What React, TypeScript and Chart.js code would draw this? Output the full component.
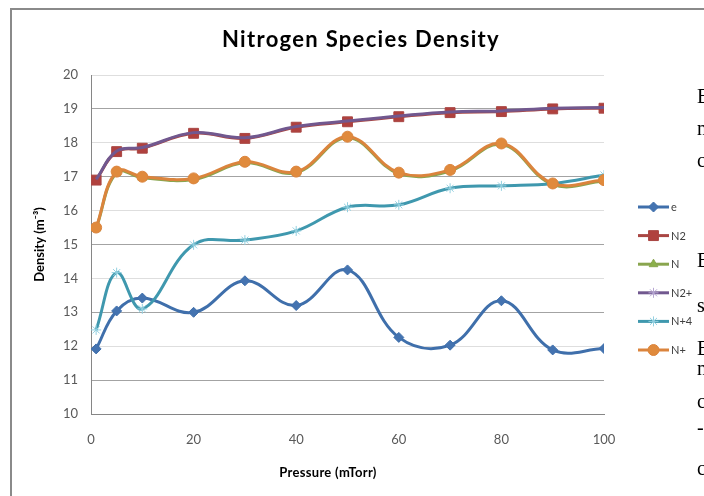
import React, { useEffect, useRef } from 'react';
import { Chart, registerables } from 'chart.js';
import { drawPoint } from 'chart.js/helpers';

Chart.register(...registerables);

const chartTitle = 'Nitrogen Species Density';
const xAxisTitle = 'Pressure (mTorr)';
const yAxisTitle = 'Density (m⁻³)';

const pressures = [1, 5, 10, 20, 30, 40, 50, 60, 70, 80, 90, 100];
const eDensity = [11.92, 13.04, 13.42, 13.0, 13.93, 13.2, 14.25, 12.26, 12.03, 13.34, 11.89, 11.93];
const n2Density = [16.9, 17.74, 17.84, 18.28, 18.13, 18.46, 18.62, 18.77, 18.89, 18.92, 19.0, 19.02];
const nDensity = [15.47, 17.12, 16.97, 16.92, 17.41, 17.12, 18.15, 17.09, 17.17, 17.95, 16.77, 16.87];
const n2PlusDensity = [16.92, 17.76, 17.86, 18.3, 18.15, 18.48, 18.64, 18.79, 18.91, 18.94, 19.02, 19.04];
const n4PlusDensity = [12.48, 14.17, 13.1, 14.99, 15.13, 15.4, 16.1, 16.17, 16.66, 16.73, 16.8, 17.05];
const nPlusDensity = [15.5, 17.15, 17.0, 16.95, 17.44, 17.15, 18.18, 17.12, 17.2, 17.98, 16.8, 16.9];

const seriesNames = ['e', 'N2', 'N', 'N2+', 'N+4', 'N+'];
const seriesValues = [eDensity, n2Density, nDensity, n2PlusDensity, n4PlusDensity, nPlusDensity];
const lineColors = ['#3f6fab', '#a94643', '#89a54e', '#71588f', '#3f98ae', '#db843d'];
const markerFills = ['#4473b0', '#b0413e', '#8bb04a', '#b6a6d2', '#93d0e0', '#e08a3c'];
const markerStyles = ['rectRot', 'rect', 'triangle', 'star', 'star', 'circle'];
const markerRadii = [5, 7, 5, 0, 5, 5.5];
const legendRadii = [5, 7, 5, 5, 5, 5.5];

const docFragments = [
  { t: 'E', b: 103 }, { t: 'n', b: 135 }, { t: 'c', b: 167 },
  { t: 'E', b: 267 }, { t: 's', b: 312 }, { t: 'E', b: 355 },
  { t: 'n', b: 375 }, { t: 'c', b: 408 }, { t: '-', b: 434 }, { t: 'c', b: 475 },
];

const FONT = 'Lato, "Open Sans", sans-serif';

const overlayPlugin = {
  id: 'overlay',
  afterDraw(chart: any) {
    const ctx = chart.ctx as any;
    ctx.save();
    ctx.fillStyle = '#000';
    ctx.textAlign = 'center';
    ctx.textBaseline = 'alphabetic';
    ctx.font = `bold 22px ${FONT}`;
    ctx.letterSpacing = '1.3px';
    ctx.fillText(chartTitle, 361, 47);
    ctx.letterSpacing = '0.3px';
    ctx.font = `bold 13px ${FONT}`;
    ctx.fillText(xAxisTitle, 328, 477);
    ctx.letterSpacing = '0px';

    chart.data.datasets.forEach((ds: any, i: number) => {
      const y = 207 + i * 28.6;
      ctx.strokeStyle = ds.borderColor;
      ctx.lineWidth = 3;
      ctx.beginPath();
      ctx.moveTo(638, y);
      ctx.lineTo(669, y);
      ctx.stroke();
      ctx.fillStyle = ds.pointBackgroundColor;
      ctx.strokeStyle = ds.pointBorderColor;
      ctx.lineWidth = ds.pointBorderWidth;
      drawPoint(ctx, { pointStyle: ds.pointStyle, rotation: 0, radius: legendRadii[i], borderWidth: ds.pointBorderWidth }, 653.5, y);
      ctx.fillStyle = '#404040';
      ctx.font = `11px ${FONT}`;
      ctx.textAlign = 'left';
      ctx.textBaseline = 'middle';
      ctx.fillText(ds.label, 671, y + 0.5);
    });
    ctx.restore();
  },
};

export default function App() {
  const canvasRef = useRef<HTMLCanvasElement | null>(null);

  useEffect(() => {
    const canvas = canvasRef.current;
    if (!canvas) return;
    const datasets = seriesNames.map((name, i) => ({
      label: name,
      data: pressures.map((p, j) => ({ x: p, y: seriesValues[i][j] })),
      borderColor: lineColors[i],
      backgroundColor: lineColors[i],
      borderWidth: 3,
      tension: 0.4,
      pointStyle: markerStyles[i],
      pointRadius: markerRadii[i],
      pointBackgroundColor: markerFills[i],
      pointBorderColor: markerStyles[i] === 'star' ? markerFills[i] : lineColors[i],
      pointBorderWidth: 1,
      order: seriesNames.length - 1 - i,
    }));
    const chart = new Chart(canvas, {
      type: 'line',
      data: { datasets },
      plugins: [overlayPlugin],
      options: {
        responsive: false,
        animation: false,
        devicePixelRatio: 1,
        layout: { padding: { top: 75, right: 100, left: 0, bottom: 0 } },
        plugins: {
          legend: { display: false },
          title: { display: false },
          tooltip: { enabled: false },
        },
        scales: {
          x: {
            type: 'linear',
            min: 0,
            max: 100,
            afterFit: (s: any) => { s.height = 82; },
            ticks: { stepSize: 20, padding: 18, color: '#595959', font: { family: FONT, size: 13 } },
            grid: { display: false, drawTicks: false },
            border: { display: true, color: '#868686', width: 1 },
          },
          y: {
            min: 10,
            max: 20,
            afterFit: (s: any) => { s.width = 91; },
            ticks: { stepSize: 1, padding: 13, color: '#595959', font: { family: FONT, size: 13 } },
            grid: {
              drawTicks: false,
              color: (c: any) => (c.tick && Math.round(c.tick.value) % 2 === 1 ? '#a3a3a3' : '#dedede'),
            },
            border: { display: true, color: '#868686', width: 1 },
            title: {
              display: true,
              text: yAxisTitle,
              color: '#000',
              font: { family: FONT, size: 13, weight: 'bold' },
              padding: { top: 32, bottom: 0 },
            },
          },
        },
      },
    } as any);
    return () => chart.destroy();
  }, []);

  return (
    <div style={{ position: 'absolute', left: 0, top: 0, width: 704, height: 496, overflow: 'hidden', background: '#fff' }}>
      <div style={{ position: 'absolute', left: 10, top: 8, width: 720, height: 520, borderTop: '2px solid #8a8a8a', borderLeft: '2px solid #8a8a8a' }} />
      <canvas ref={canvasRef} width={704} height={496} style={{ position: 'absolute', left: 0, top: 0, width: 704, height: 496 }} />
      {docFragments.map((f, i) => (
        <div key={i} style={{ position: 'absolute', left: 697, top: f.b - 17, fontFamily: '"Liberation Serif", serif', fontSize: 20, lineHeight: '20px', color: '#000' }}>
          {f.t}
        </div>
      ))}
    </div>
  );
}
